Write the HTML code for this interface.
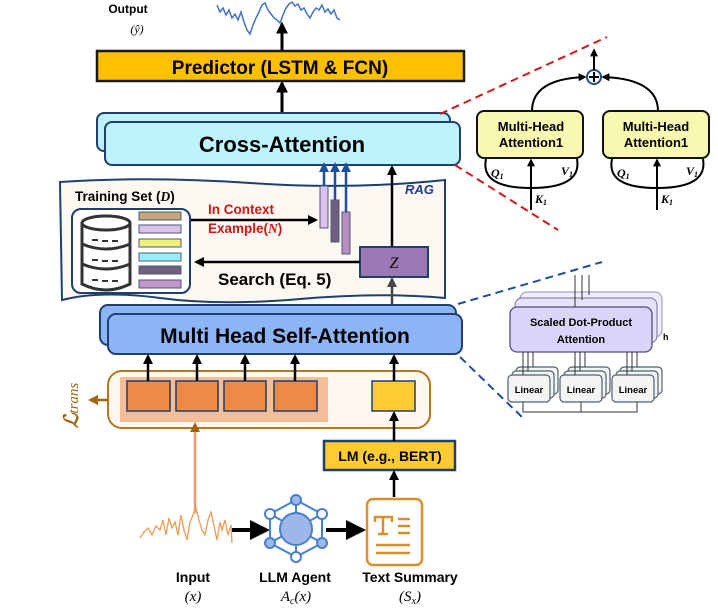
<!DOCTYPE html>
<html><head><meta charset="utf-8"><style>
html,body{margin:0;padding:0;background:#fff;}
svg{display:block;font-family:"Liberation Sans",Arial,sans-serif;}
</style></head><body>
<svg width="718" height="608" viewBox="0 0 718 608" xmlns="http://www.w3.org/2000/svg">
<defs>
<marker id="a" viewBox="0 0 10 10" refX="8" refY="5" markerWidth="4" markerHeight="4" orient="auto"><path d="M0,0L10,5L0,10z" fill="#000"/></marker>
<marker id="ag" viewBox="0 0 10 10" refX="8" refY="5" markerWidth="4" markerHeight="4" orient="auto"><path d="M0,0L10,5L0,10z" fill="#444"/></marker>
<marker id="ab" viewBox="0 0 10 10" refX="8" refY="5" markerWidth="4" markerHeight="4" orient="auto"><path d="M0,0L10,5L0,10z" fill="#1F4E9C"/></marker>
<marker id="ao" viewBox="0 0 10 10" refX="8" refY="5" markerWidth="4" markerHeight="4" orient="auto"><path d="M0,0L10,5L0,10z" fill="#A0640F"/></marker>
<marker id="as" viewBox="0 0 10 10" refX="8" refY="5" markerWidth="5" markerHeight="5" orient="auto"><path d="M0,0L10,5L0,10z" fill="#000"/></marker>
</defs>

<!-- Output -->
<text x="128" y="13" font-size="12" font-weight="bold" text-anchor="middle">Output</text>
<text x="137" y="33" font-size="12" font-style="italic" font-family="Liberation Serif" text-anchor="middle">(ŷ)</text>
<polyline fill="none" stroke="#4472C4" stroke-width="1.5" points="217,5 220,12 223,8 226,15 229,10 232,18 235,14 238,20 241,12 244,22 247,30 250,34 253,25 256,18 259,12 262,5 265,3 268,10 271,14 274,18 277,20 280,23 283,15 286,8 289,4 292,2 295,6 298,4 301,10 304,8 307,14 310,18 313,12 316,8 319,10 322,5 325,12 328,9 331,14 334,10 337,18 340,20"/>
<line x1="282" y1="50" x2="282" y2="24" stroke="#000" stroke-width="3" marker-end="url(#a)"/>

<!-- Predictor -->
<rect x="97" y="51" width="367" height="30" fill="#FFC000" stroke="#1a1a1a" stroke-width="2.5"/>
<text x="280" y="74" font-size="19" font-weight="bold" text-anchor="middle">Predictor (LSTM &amp; FCN)</text>
<line x1="282" y1="113" x2="282" y2="83" stroke="#000" stroke-width="3" marker-end="url(#a)"/>

<!-- Cross attention -->
<rect x="97" y="113" width="353" height="38" rx="7" fill="#BDF3FB" stroke="#1F3F6F" stroke-width="2"/>
<rect x="105" y="122" width="355" height="43" rx="7" fill="#BDF3FB" stroke="#1F3F6F" stroke-width="2"/>
<text x="282" y="152" font-size="22" font-weight="bold" text-anchor="middle">Cross-Attention</text>

<!-- RAG region -->
<path d="M60,182 Q150,176 250,183 T445,180 L445,298 Q380,292 300,299 T160,298 T62,300 Z" fill="#FDF8F1" stroke="#1F3F6F" stroke-width="2"/>
<text x="405" y="194" font-size="13" font-weight="bold" font-style="italic" fill="#1F3F8F">RAG</text>
<text x="75" y="201" font-size="13.5" font-weight="bold">Training Set (<tspan font-family="Liberation Serif" font-style="italic">D</tspan>)</text>
<rect x="72" y="209" width="118" height="84" rx="9" fill="#fff" stroke="#1F3F6F" stroke-width="2"/>
<!-- cylinder -->
<g fill="none" stroke="#333" stroke-width="3">
<ellipse cx="106" cy="223" rx="24" ry="7"/>
<path d="M82,223 V284 Q106,296 130,284 V223"/>
<path d="M82,244 Q106,254 130,244"/><path d="M82,264 Q106,274 130,264"/>
<path d="M92,240h6M102,241h6M112,241h6" stroke-width="2"/>
<path d="M92,260h6M102,261h6M112,261h6" stroke-width="2"/>
<path d="M92,280h6M102,281h6M112,281h6" stroke-width="2"/>
</g>
<g stroke="#4a5a7a" stroke-width="1">
<rect x="139" y="212" width="42" height="8" fill="#C8A47C"/>
<rect x="139" y="225" width="42" height="8" fill="#DCC2EC"/>
<rect x="139" y="239" width="42" height="8" fill="#EEF27A"/>
<rect x="139" y="253" width="42" height="8" fill="#94EEF8"/>
<rect x="139" y="266" width="42" height="8" fill="#70607E"/>
<rect x="139" y="280" width="42" height="8" fill="#C294C8"/>
</g>
<line x1="191" y1="220" x2="316" y2="220" stroke="#000" stroke-width="2.5" marker-end="url(#a)"/>
<text x="208" y="214" font-size="13.5" font-weight="bold" fill="#CC1818">In Context</text>
<text x="208" y="233" font-size="13.5" font-weight="bold" fill="#CC1818">Example(<tspan font-family="Liberation Serif" font-style="italic">N</tspan>)</text>
<rect x="320" y="186" width="8" height="42" fill="#DCC2EC" stroke="#4a5a7a"/>
<rect x="331" y="200" width="8" height="42" fill="#706080" stroke="#4a5a7a"/>
<rect x="342" y="212" width="8" height="42" fill="#B88CC4" stroke="#4a5a7a"/>
<g stroke="#1F4E9C" stroke-width="2.5">
<line x1="324" y1="186" x2="324" y2="164" marker-end="url(#ab)"/>
<line x1="335" y1="200" x2="335" y2="164" marker-end="url(#ab)"/>
<line x1="346" y1="212" x2="346" y2="164" marker-end="url(#ab)"/>
</g>
<rect x="360" y="247" width="68" height="30" fill="#9B78B4" stroke="#1F3F6F" stroke-width="2"/>
<text x="394" y="268" font-size="16" font-style="italic" font-family="Liberation Serif" text-anchor="middle">Z</text>
<line x1="392" y1="247" x2="392" y2="167" stroke="#000" stroke-width="2.5" marker-end="url(#a)"/>
<line x1="360" y1="262" x2="196" y2="262" stroke="#000" stroke-width="2.5" marker-end="url(#a)"/>
<text x="218" y="285" font-size="17" font-weight="bold">Search (Eq. 5)</text>
<line x1="392" y1="306" x2="392" y2="279" stroke="#444" stroke-width="2.5" marker-end="url(#ag)"/>

<!-- MHSA -->
<rect x="100" y="305" width="356" height="40" rx="8" fill="#8DB4F5" stroke="#1F3F6F" stroke-width="2"/>
<rect x="108" y="314" width="354" height="40" rx="8" fill="#8DB4F5" stroke="#1F3F6F" stroke-width="2"/>
<text x="285" y="343" font-size="21" font-weight="bold" text-anchor="middle">Multi Head Self-Attention</text>

<!-- Embedding row -->
<rect x="108" y="371" width="322" height="57" rx="14" fill="#FFF9F2" stroke="#B07820" stroke-width="2"/>
<rect x="120" y="377" width="208" height="45" fill="#F6BE98"/>
<g fill="#EE8A48" stroke="#1F3F6F" stroke-width="1.5">
<rect x="127" y="381" width="43" height="30"/><rect x="176" y="381" width="42" height="30"/>
<rect x="224" y="381" width="42" height="30"/><rect x="274" y="381" width="43" height="30"/>
</g>
<rect x="372" y="381" width="43" height="30" fill="#FFCC33" stroke="#1F3F6F" stroke-width="1.5"/>
<g stroke="#000" stroke-width="2.5">
<line x1="148" y1="381" x2="148" y2="356" marker-end="url(#a)"/>
<line x1="197" y1="381" x2="197" y2="356" marker-end="url(#a)"/>
<line x1="245" y1="381" x2="245" y2="356" marker-end="url(#a)"/>
<line x1="295" y1="381" x2="295" y2="356" marker-end="url(#a)"/>
<line x1="394" y1="381" x2="394" y2="356" marker-end="url(#a)"/>
</g>
<line x1="108" y1="400" x2="90" y2="400" stroke="#A0640F" stroke-width="2.5" marker-end="url(#ao)"/>
<text transform="translate(78,428) rotate(-90)" font-size="20" font-family="Liberation Serif" font-style="italic" font-weight="bold" fill="#A0640F">ℒ<tspan font-size="15" font-weight="normal" dy="0">trans</tspan></text>

<!-- LM -->
<rect x="324" y="441" width="131" height="29" fill="#FFCC33" stroke="#1F3F6F" stroke-width="2.5"/>
<text x="390" y="461" font-size="14" font-weight="bold" text-anchor="middle">LM (e.g., BERT)</text>
<line x1="394" y1="441" x2="394" y2="413" stroke="#000" stroke-width="2.5" marker-end="url(#a)"/>
<line x1="394" y1="497" x2="394" y2="472" stroke="#000" stroke-width="2.5" marker-end="url(#a)"/>

<!-- Input wave -->
<polyline fill="none" stroke="#EE9A55" stroke-width="1.3" points="140,538 144,532 148,528 152,535 156,526 160,530 163,520 166,535 169,518 172,528 175,522 178,535 181,515 184,530 187,540 190,522 193,515 196,508 199,520 202,530 205,535 208,520 211,512 214,526 217,540 220,522 222,530 225,520 228,535 231,525 232,543"/>
<line x1="195" y1="513" x2="195" y2="424" stroke="#F09A68" stroke-width="2.5" marker-end="url(#ao)" style="stroke:#F09A68"/>
<line x1="232" y1="530" x2="266" y2="530" stroke="#000" stroke-width="4" marker-end="url(#as)"/>

<!-- Agent icon -->
<g stroke="#4A7FD0" stroke-width="2">
<polygon points="296,500 322,514 322,543 296,557 270,543 270,514" fill="none"/>
<line x1="296" y1="500" x2="296" y2="557"/>
<line x1="270" y1="514" x2="322" y2="543"/><line x1="322" y1="514" x2="270" y2="543"/>
<circle cx="296" cy="529" r="16" fill="#9DB8E8"/>
<circle cx="296" cy="500" r="5" fill="#9DB8E8"/><circle cx="296" cy="557" r="5" fill="#fff"/>
<circle cx="270" cy="514" r="5" fill="#fff"/><circle cx="322" cy="514" r="5" fill="#fff"/>
<circle cx="270" cy="543" r="5" fill="#9DB8E8"/><circle cx="322" cy="543" r="5" fill="#9DB8E8"/>
</g>
<line x1="326" y1="530" x2="362" y2="530" stroke="#000" stroke-width="4" marker-end="url(#as)"/>

<!-- Text summary icon -->
<rect x="367" y="499" width="55" height="66" rx="6" fill="#fff" stroke="#D9902A" stroke-width="2.5"/>
<g stroke="#D9902A" stroke-width="2.5" fill="none">
<path d="M375,522v-5h17v5M383,517v17M378,534h10"/>
<path d="M398,519h12M398,526h12M398,533h12M376,545h34M376,553h34"/>
</g>

<!-- bottom labels -->
<g font-size="14" font-weight="bold" text-anchor="middle">
<text x="193" y="582">Input</text>
<text x="295" y="582">LLM Agent</text>
<text x="410" y="582">Text Summary</text>
</g>
<g font-size="15" font-family="Liberation Serif" font-style="italic" text-anchor="middle">
<text x="193" y="601">(x)</text>
<text x="296" y="601">A<tspan font-size="10" dy="3">c</tspan><tspan dy="-3">(x)</tspan></text>
<text x="410" y="601">(S<tspan font-size="10" dy="3">x</tspan><tspan dy="-3">)</tspan></text>
</g>

<!-- Red dashed zoom -->
<g stroke="#D01818" stroke-width="2" stroke-dasharray="8,5" fill="none">
<line x1="440" y1="114" x2="607" y2="37"/>
<line x1="455" y1="165" x2="558" y2="230"/>
</g>
<rect x="477" y="111" width="106" height="47" rx="7" fill="#F8F8B0" stroke="#111" stroke-width="2"/>
<rect x="603" y="111" width="106" height="47" rx="7" fill="#F8F8B0" stroke="#111" stroke-width="2"/>
<g font-size="13" font-weight="bold" text-anchor="middle">
<text x="531" y="131">Multi-Head</text><text x="531" y="147">Attention1</text>
<text x="656" y="131">Multi-Head</text><text x="656" y="147">Attention1</text>
</g>
<circle cx="594" cy="77" r="7" fill="#fff" stroke="#1F4E8C" stroke-width="2"/>
<path d="M594,72v10M589,77h10" stroke="#000" stroke-width="2"/>
<g stroke="#000" stroke-width="2" fill="none">
<path d="M532,111 Q532,79 585,77" marker-end="url(#a)"/>
<path d="M658,111 Q658,79 603,77" marker-end="url(#a)"/>
<line x1="594" y1="70" x2="594" y2="50" marker-end="url(#a)"/>
<path d="M531,210V160"  marker-end="url(#a)"/>
<path d="M486,159 Q480,188 531,188 Q582,188 577,159" />
<path d="M657,210V160" marker-end="url(#a)"/>
<path d="M612,159 Q606,188 657,188 Q708,188 703,159"/>
</g>
<g font-family="Liberation Serif" font-style="italic" font-weight="bold" font-size="12">
<text x="491" y="177">Q<tspan font-size="8" dy="2">1</tspan></text>
<text x="561" y="175">V<tspan font-size="8" dy="2">1</tspan></text>
<text x="535" y="203">K<tspan font-size="8" dy="2">1</tspan></text>
<text x="617" y="177">Q<tspan font-size="8" dy="2">1</tspan></text>
<text x="686" y="175">V<tspan font-size="8" dy="2">1</tspan></text>
<text x="661" y="203">K<tspan font-size="8" dy="2">1</tspan></text>
</g>

<!-- Blue dashed zoom -->
<g stroke="#1F4E9C" stroke-width="2" stroke-dasharray="8,5" fill="none">
<line x1="458" y1="304" x2="602" y2="262"/>
<line x1="460" y1="357" x2="523" y2="418"/>
</g>
<rect x="520" y="292" width="142" height="45" rx="7" fill="#F0EEFC" stroke="#9090B8"/>
<rect x="515" y="298" width="142" height="45" rx="7" fill="#E6E2FA" stroke="#7070A0"/>
<rect x="510" y="307" width="142" height="45" rx="7" fill="#DAD4F8" stroke="#505078" stroke-width="1.3"/>
<text x="581" y="326" font-size="11" font-weight="bold" text-anchor="middle">Scaled Dot-Product</text>
<text x="581" y="343" font-size="11" font-weight="bold" text-anchor="middle">Attention</text>
<text x="663" y="340" font-size="9" font-weight="bold">h</text>
<g stroke="#333" stroke-width="1">
<line x1="575" y1="307" x2="575" y2="275"/><line x1="582" y1="300" x2="582" y2="275"/><line x1="589" y1="295" x2="589" y2="275"/>
</g>
<g fill="#F2F5F2" stroke="#506070" stroke-width="1.2">
<rect x="516" y="367" width="42" height="27" rx="4"/><rect x="512" y="371" width="42" height="27" rx="4"/><rect x="508" y="375" width="42" height="27" rx="4"/>
<rect x="568" y="367" width="42" height="27" rx="4"/><rect x="564" y="371" width="42" height="27" rx="4"/><rect x="560" y="375" width="42" height="27" rx="4"/>
<rect x="620" y="367" width="42" height="27" rx="4"/><rect x="616" y="371" width="42" height="27" rx="4"/><rect x="612" y="375" width="42" height="27" rx="4"/>
</g>
<g font-size="9.5" font-weight="bold" text-anchor="middle">
<text x="529" y="393">Linear</text><text x="581" y="393">Linear</text><text x="633" y="393">Linear</text>
</g>
<g stroke="#333" stroke-width="1">
<line x1="523" y1="375" x2="523" y2="352"/><line x1="528" y1="371" x2="528" y2="352"/><line x1="533" y1="367" x2="533" y2="352"/>
<line x1="575" y1="375" x2="575" y2="352"/><line x1="580" y1="371" x2="580" y2="352"/><line x1="585" y1="367" x2="585" y2="352"/>
<line x1="627" y1="375" x2="627" y2="352"/><line x1="632" y1="371" x2="632" y2="352"/><line x1="637" y1="367" x2="637" y2="352"/>
<path d="M523,402V412H637V402M581,412V402" fill="none"/>
</g>
</svg>
</body></html>
